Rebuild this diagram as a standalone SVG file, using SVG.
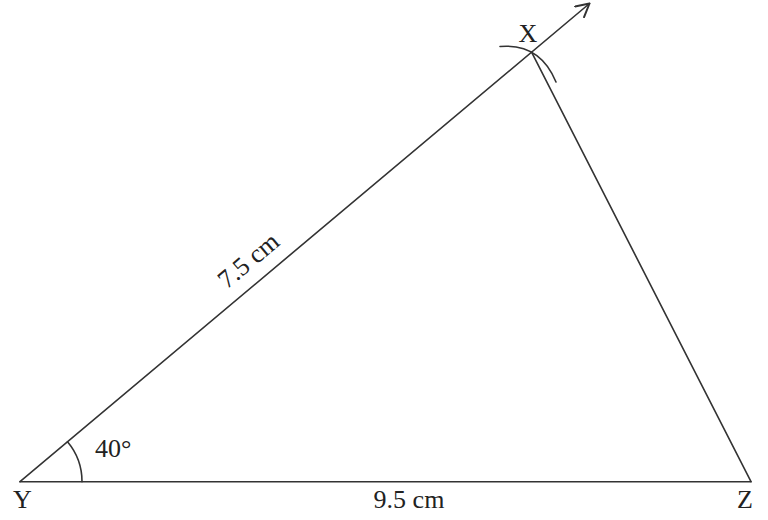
<svg xmlns="http://www.w3.org/2000/svg" width="768" height="520" viewBox="0 0 768 520">
<style>
.ln{stroke:#333;stroke-width:1.6;fill:none;stroke-linecap:round}
.lb{font-family:"Liberation Serif","DejaVu Serif",serif;font-size:26px;fill:#222}
</style>
<defs>
<marker id="arr" viewBox="0 0 16 16" refX="14" refY="8" markerWidth="16" markerHeight="16" markerUnits="userSpaceOnUse" orient="auto">
<path d="M1,1 L14,8 L1,15" fill="none" stroke="#333" stroke-width="2" stroke-linecap="round" stroke-linejoin="round"/>
</marker>
</defs>
<rect width="768" height="520" fill="#fff"/>
<g id="connectors">
<path class="ln" d="M20,481.7 L589.5,3.5" marker-end="url(#arr)"/>
<path class="ln" d="M20,481.7 L751,481.7"/>
<path class="ln" d="M531.7,52.3 L751,481.7"/>
<path class="ln" d="M500,46.5 Q540,43 556,82"/>
<path class="ln" d="M82,481.7 A62,62 0 0 0 67.5,441.8"/>
</g>
<g id="node-X"><text class="lb" x="528" y="42" text-anchor="middle">X</text></g>
<g id="node-Y"><text class="lb" x="22.5" y="508" text-anchor="middle">Y</text></g>
<g id="node-Z"><text class="lb" x="745" y="508" text-anchor="middle">Z</text></g>
<g id="labels">
<text class="lb" x="253.9" y="267.1" text-anchor="middle" transform="rotate(-40 253.9 267.1)">7.5 cm</text>
<text class="lb" x="409" y="508" text-anchor="middle">9.5 cm</text>
<text class="lb" x="95" y="456.5">40°</text>
</g>
</svg>
